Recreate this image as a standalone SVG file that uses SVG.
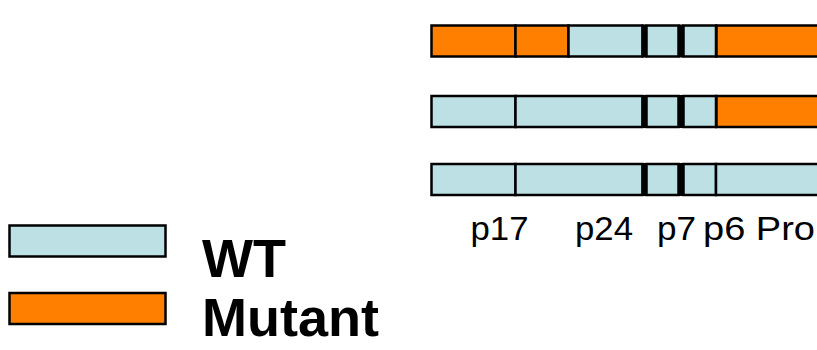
<svg xmlns="http://www.w3.org/2000/svg" width="817" height="350" viewBox="0 0 817 350">
<style>
.wt{fill:#BCE0E3;stroke:#000;stroke-width:2.5}
.mu{fill:#FF8000;stroke:#000;stroke-width:2.5}
.div{fill:#000}
.lbl{font-family:"Liberation Sans",Arial,sans-serif;font-size:34px;fill:#000}
.leg{font-family:"Liberation Sans",Arial,sans-serif;font-size:54px;font-weight:bold;fill:#000}
</style>
<rect width="817" height="350" fill="#fff"/>
<g id="row1">
<rect class="mu" x="431.5" y="25.5" width="84" height="31"/>
<rect class="mu" x="515.5" y="25.5" width="53" height="31"/>
<rect class="wt" x="568.5" y="25.5" width="74" height="31"/>
<rect class="wt" x="646.5" y="25.5" width="32" height="31"/>
<rect class="wt" x="683.5" y="25.5" width="32.5" height="31"/>
<rect class="div" x="641.5" y="24.5" width="5" height="33"/>
<rect class="div" x="678.5" y="24.5" width="5" height="33"/>
<rect class="mu" x="716.5" y="25.5" width="110" height="31"/>
</g>
<g id="row2">
<rect class="wt" x="431.5" y="96" width="84" height="31"/>
<rect class="wt" x="515.5" y="96" width="127" height="31"/>
<rect class="wt" x="646.5" y="96" width="32" height="31"/>
<rect class="wt" x="683.5" y="96" width="32.5" height="31"/>
<rect class="div" x="641.5" y="95" width="5" height="33"/>
<rect class="div" x="678.5" y="95" width="5" height="33"/>
<rect class="mu" x="716.5" y="96" width="110" height="31"/>
</g>
<g id="row3">
<rect class="wt" x="431.5" y="164" width="84" height="31"/>
<rect class="wt" x="515.5" y="164" width="127" height="31"/>
<rect class="wt" x="646.5" y="164" width="32" height="31"/>
<rect class="wt" x="683.5" y="164" width="32.5" height="31"/>
<rect class="div" x="641.5" y="163" width="5.5" height="33"/>
<rect class="div" x="678.5" y="163" width="5.5" height="33"/>
<rect class="wt" x="716" y="164" width="110" height="31"/>
</g>
<g id="labels">
<text class="lbl" x="470.5" y="240" textLength="58" lengthAdjust="spacingAndGlyphs">p17</text>
<text class="lbl" x="575" y="240" textLength="58" lengthAdjust="spacingAndGlyphs">p24</text>
<text class="lbl" x="657" y="240" textLength="39" lengthAdjust="spacingAndGlyphs">p7</text>
<text class="lbl" x="703" y="240" textLength="112" lengthAdjust="spacingAndGlyphs">p6 Pro</text>
</g>
<g id="legend-wt">
<rect class="wt" x="9.5" y="225.5" width="156" height="31" stroke-width="2"/>
<text class="leg" x="202" y="277">WT</text>
</g>
<g id="legend-mutant">
<rect class="mu" x="9.5" y="293" width="156" height="31" stroke-width="2"/>
<text class="leg" x="202" y="336">Mutant</text>
</g>
<g id="connectors"></g>
</svg>
